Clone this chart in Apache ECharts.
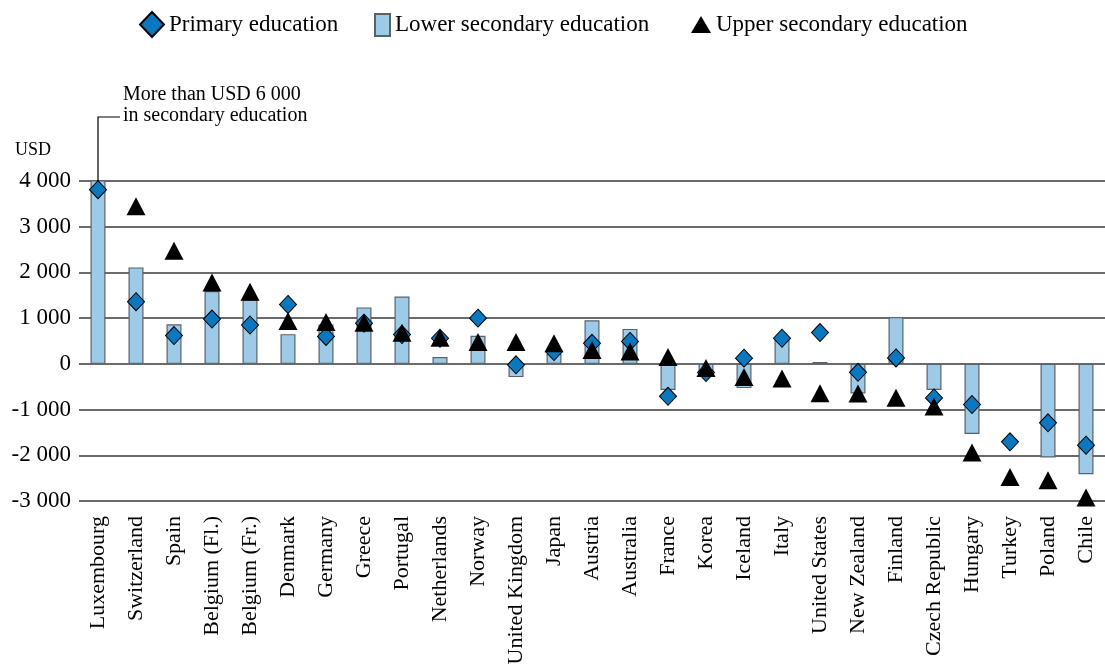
<!DOCTYPE html>
<html>
<head>
<meta charset="utf-8">
<script src="https://cdn.jsdelivr.net/npm/echarts@6/dist/echarts.min.js"></script>
<style>
  html, body { margin: 0; padding: 0; background: #fff; }
  #chart { width: 1105px; height: 670px; }
</style>
</head>
<body>
<div id="chart"></div>
<script>
// Differences in annual expenditure per student, by level of education (USD)
const countries = [
  'Luxembourg', 'Switzerland', 'Spain', 'Belgium (Fl.)', 'Belgium (Fr.)', 'Denmark',
  'Germany', 'Greece', 'Portugal', 'Netherlands', 'Norway', 'United Kingdom', 'Japan',
  'Austria', 'Australia', 'France', 'Korea', 'Iceland', 'Italy', 'United States',
  'New Zealand', 'Finland', 'Czech Republic', 'Hungary', 'Turkey', 'Poland', 'Chile'
];

const primary = [
  3810, 1360, 620, 980, 850, 1300,
  600, 890, 640, 560, 1000, -20, 270,
  450, 490, -710, -190, 125, 560, 685,
  -185, 130, -745, -890, -1705, -1290, -1780
];

// Luxembourg exceeds USD 6 000 and runs past the top of the axis
const lowerSecondary = [
  6100, 2110, 865, 1595, 1400, 650,
  860, 1235, 1475, 150, 615, -290, 220,
  955, 765, -570, -270, -530, 560, 40,
  -650, 1022, -570, -1535, null, -2050, -2415
];

const upperSecondary = [
  null, 3450, 2475, 1780, 1580, 940,
  915, 900, 680, 570, 480, 480, 450,
  305, 270, 150, -90, -290, -320, -645,
  -650, -743, -932, -1938, -2473, -2545, -2924
];

const yTicks = { min: -3000, max: 4000, interval: 1000 };

const FONT = 'Liberation Serif';
const BAR_FILL = '#9dcbe7';
const BAR_EDGE = '#56636d';
const DIAMOND = '#0a78bf';

const chart = echarts.init(document.getElementById('chart'), null, { renderer: 'canvas' });

function legendFor(name, left, top, w, h, icon) {
  return {
    data: [icon ? { name: name, icon: icon } : name],
    left: left,
    top: top,
    padding: 0,
    itemWidth: w,
    itemHeight: h,
    selectedMode: false,
    textStyle: { fontFamily: FONT, fontSize: 23, color: '#000' }
  };
}

chart.setOption({
  animation: false,
  backgroundColor: '#fff',
  textStyle: { fontFamily: FONT },
  title: {
    text: 'USD',
    left: 15,
    top: 141,
    padding: 0,
    textStyle: { fontFamily: FONT, fontSize: 18, fontWeight: 'normal', color: '#000' }
  },
  legend: [
    legendFor('Primary education', 139, 11, 24, 25),
    legendFor('Lower secondary education', 374, 13, 15, 22, 'rect'),
    legendFor('Upper secondary education', 691, 13, 20, 17)
  ],
  grid: { left: 79, top: 181, width: 1028, height: 320, containLabel: false },
  xAxis: {
    type: 'category',
    data: countries,
    axisLine: { show: false, onZero: false },
    axisTick: { show: false },
    axisLabel: {
      rotate: 90,
      interval: 0,
      margin: 15,
      fontFamily: FONT,
      fontSize: 22,
      color: '#000'
    }
  },
  yAxis: {
    type: 'value',
    min: yTicks.min,
    max: yTicks.max,
    interval: yTicks.interval,
    axisLine: { show: false },
    axisTick: { show: false },
    splitLine: { lineStyle: { color: '#3a3a3a', width: 1.5 } },
    axisLabel: {
      margin: 8,
      fontFamily: FONT,
      fontSize: 23,
      color: '#000',
      formatter: function (v) {
        const s = String(Math.abs(v)).replace(/\B(?=(\d{3})+(?!\d))/g, ' ');
        return (v < 0 ? '-' : '') + s;
      }
    }
  },
  series: [
    {
      name: 'Lower secondary education',
      type: 'bar',
      data: lowerSecondary,
      barWidth: 15,
      clip: true,
      itemStyle: { color: BAR_FILL, borderColor: BAR_EDGE, borderWidth: 1.2 }
    },
    {
      name: 'Primary education',
      type: 'scatter',
      data: primary,
      symbol: 'diamond',
      symbolSize: [17, 18],
      itemStyle: { color: DIAMOND, borderColor: '#000', borderWidth: 1, opacity: 1 }
    },
    {
      name: 'Upper secondary education',
      type: 'scatter',
      data: upperSecondary,
      symbol: 'triangle',
      symbolSize: [19, 18],
      itemStyle: { color: '#000', opacity: 1 }
    }
  ]
});

// Leader line and note for the Luxembourg bar, which runs beyond the axis
const luxTop = chart.convertToPixel({ gridIndex: 0 }, ['Luxembourg', yTicks.max]);
const bendY = 117;
chart.setOption({
  graphic: [
    {
      type: 'polyline',
      shape: { points: [[luxTop[0], luxTop[1]], [luxTop[0], bendY], [luxTop[0] + 22, bendY]] },
      style: { stroke: '#000', lineWidth: 1.2, fill: null },
      z: 10
    },
    {
      type: 'text',
      left: luxTop[0] + 25,
      top: 84,
      style: {
        text: 'More than USD 6 000\nin secondary education',
        fontFamily: FONT,
        fontSize: 20,
        lineHeight: 21,
        fill: '#000'
      },
      z: 10
    }
  ]
});
</script>
</body>
</html>
